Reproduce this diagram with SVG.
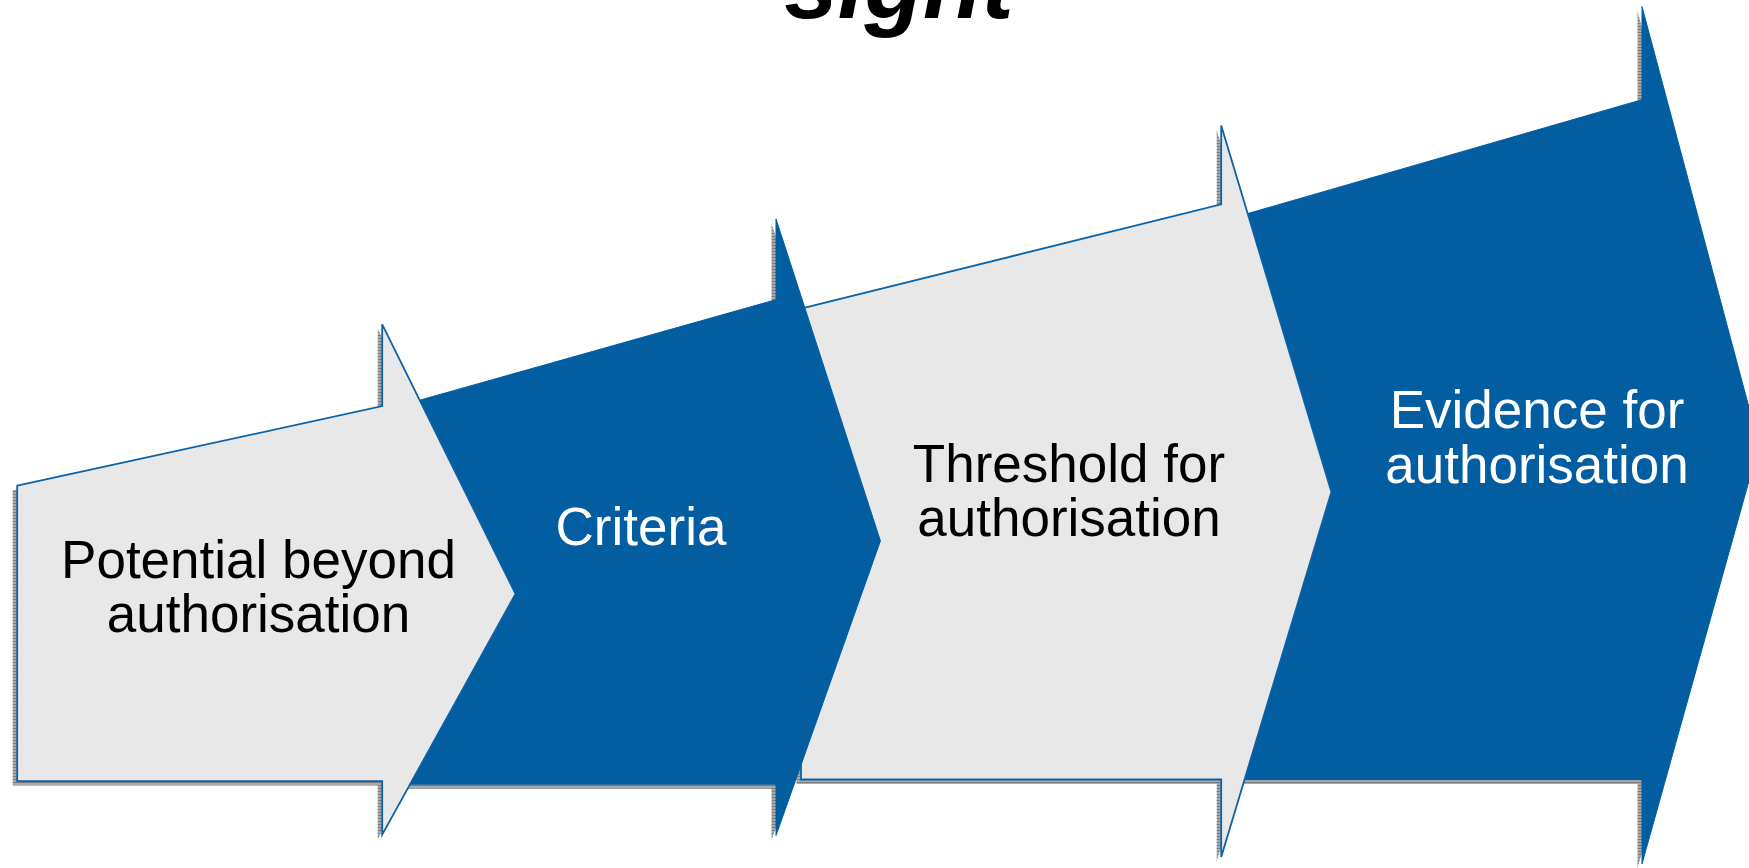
<svg xmlns="http://www.w3.org/2000/svg" width="1749" height="868" viewBox="0 0 1749 868">
  <defs>
    <pattern id="hatch" patternUnits="userSpaceOnUse" width="3" height="3">
      <rect x="0" y="0" width="3" height="2" fill="#7c7c7c"/>
      <rect x="0" y="2" width="3" height="1" fill="#d6d6d6"/>
    </pattern>
  </defs>
  <style>
    .shadow { fill: url(#hatch); }
    .grey { fill: #e8e8e8; stroke: #0a62a8; stroke-width: 1.8; stroke-linejoin: miter; }
    .blue { fill: #035da1; stroke: #035da1; stroke-width: 1; }
    .lbl { font-family: "Liberation Sans", Arial, sans-serif; font-size: 53px; text-anchor: middle; }
    .dark { fill: #000000; }
    .light { fill: #ffffff; }
    .title { font-family: "Liberation Sans", Arial, sans-serif; font-size: 96px; font-weight: bold; font-style: italic; text-anchor: middle; fill: #000000; }
  </style>
  <rect x="0" y="0" width="1749" height="868" fill="#ffffff"/>
  <text class="title" x="899" y="18">sight</text>
  <g id="connectors"></g>
  <g id="step4">
    <polygon class="shadow" transform="translate(-4.5,4.5)" points="1240,215.8 1642,99.7 1642,6.6 1759,445 1642,863.8 1642,779.6 1240,779.6"/>
    <polygon class="blue" points="1240,215.8 1642,99.7 1642,6.6 1759,445 1642,863.8 1642,779.6 1240,779.6"/>
    <text class="lbl light" x="1537" y="428">Evidence for</text>
    <text class="lbl light" x="1537" y="483">authorisation</text>
  </g>
  <g id="step3">
    <polygon class="shadow" transform="translate(-4.5,4.5)" points="801,308.6 1221.2,204.3 1221.2,125.5 1331.4,491.9 1221.2,856.9 1221.2,779.5 801,779.5"/>
    <polygon class="grey" points="801,308.6 1221.2,204.3 1221.2,125.5 1331.4,491.9 1221.2,856.9 1221.2,779.5 801,779.5"/>
    <text class="lbl dark" x="1069" y="482">Threshold for</text>
    <text class="lbl dark" x="1069" y="536">authorisation</text>
  </g>
  <g id="step2">
    <polygon class="shadow" transform="translate(-4.5,4.5)" points="408,403.5 776,299.7 776,218.9 880.4,540.9 776,835.5 776,784.2 408,784.2"/>
    <polygon class="blue" points="408,403.5 776,299.7 776,218.9 880.4,540.9 776,835.5 776,784.2 408,784.2"/>
    <text class="lbl light" x="641" y="545">Criteria</text>
  </g>
  <g id="step1">
    <polygon class="shadow" transform="translate(-4.5,4.5)" points="17.2,485.7 382.2,406.1 382.2,324.3 515.5,593.9 382.2,834.6 382.2,781.1 17.2,781.1"/>
    <polygon class="grey" points="17.2,485.7 382.2,406.1 382.2,324.3 515.5,593.9 382.2,834.6 382.2,781.1 17.2,781.1"/>
    <text class="lbl dark" x="258.5" y="578">Potential beyond</text>
    <text class="lbl dark" x="258.5" y="632">authorisation</text>
  </g>
</svg>
